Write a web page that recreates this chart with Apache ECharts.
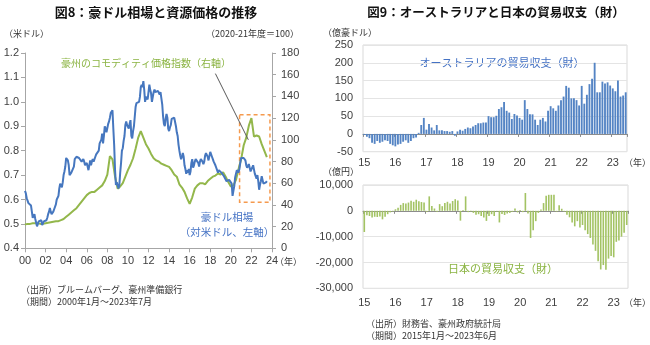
<!DOCTYPE html>
<html><head><meta charset="utf-8">
<script src="https://cdn.jsdelivr.net/npm/echarts@6/dist/echarts.min.js"></script>
<style>html,body{margin:0;padding:0;background:#fff}#c{width:650px;height:345px}</style>
</head><body><div id="c"></div>
<script>
// ---- Fig.8: AUD/USD (monthly, 2000-01 .. 2023-07), left axis ----
const audUsd = [
 .635,.625,.605,.595,.585,.590,.585,.575,.550,.525,.520,.540,
 .520,.505,.490,.495,.510,.510,.505,.515,.495,.500,.510,.510,
 .515,.515,.525,.540,.550,.565,.550,.540,.545,.550,.560,.560,
 .580,.600,.605,.615,.645,.665,.660,.650,.670,.700,.715,.735,
 .770,.775,.760,.740,.700,.695,.710,.710,.715,.735,.765,.770,
 .775,.780,.775,.770,.765,.765,.755,.755,.765,.755,.740,.740,
 .750,.745,.720,.740,.760,.740,.755,.765,.755,.760,.775,.785,
 .785,.790,.800,.830,.830,.845,.870,.830,.860,.900,.890,.875,
 .880,.910,.920,.935,.955,.955,.965,.890,.820,.720,.660,.670,
 .665,.645,.660,.710,.750,.800,.810,.840,.860,.905,.920,.905,
 .905,.890,.910,.925,.860,.850,.880,.900,.940,.980,.995,.995,
 1.000,1.000,1.020,1.060,1.070,1.060,1.085,1.050,1.000,1.020,1.020,1.010,
 1.040,1.070,1.050,1.035,1.000,1.000,1.040,1.050,1.040,1.035,1.040,1.045,
 1.045,1.030,1.040,1.040,.990,.940,.910,.900,.930,.950,.935,.890,
 .880,.895,.905,.930,.925,.935,.935,.930,.900,.875,.860,.825,
 .800,.780,.765,.775,.790,.775,.740,.725,.705,.720,.710,.725,
 .700,.715,.750,.765,.730,.740,.755,.765,.760,.760,.750,.735,
 .755,.765,.760,.755,.745,.755,.780,.790,.795,.775,.760,.760,
 .795,.785,.775,.765,.755,.750,.740,.730,.720,.710,.720,.715,
 .715,.710,.710,.710,.695,.695,.700,.675,.680,.680,.680,.685,
 .685,.665,.615,.635,.655,.690,.705,.720,.720,.710,.725,.750,
 .770,.775,.770,.770,.775,.760,.740,.730,.730,.745,.730,.715,
 .715,.720,.740,.735,.705,.705,.685,.700,.675,.640,.660,.675,
 .695,.690,.665,.670,.665,.670,.675
];
// Australian commodity price index (2020-21 = 100), quarterly points Jan/Apr/Jul/Oct, right axis
const commodity = [
 22,22.5,22.5,23, 23,23,22.5,22.5, 23,23.5,24,24.5, 25,25,26,27,
 29,31,33,35, 37,40,43,46, 49,51,52,52, 54,56,58,62,
 68,85,82,66, 55,57,60,66, 72,77,83,92, 102,108,102,96,
 92,87,83,81, 80,78,77,76, 75,72,68,66, 59,56,52,46,
 41,47,55,58, 60,60,59,62, 64,66,67,69, 68,70,66,61,
 57,58,63,73, 82,95,102,113, 120,103,104,103, 96,90,84
];
const leftYearLabels = ['00','02','04','06','08','10','12','14','16','18','20','22','24'];

// ---- Fig.9: monthly trade balance (goods), 2015-01 .. 2023-06 ----
const ausTrade = [ // 億豪ドル
 -3,-8,-12,-25,-28,-20,-25,-22,-18,-20,-28,-32,
 -35,-30,-28,-22,-18,-25,-20,-12,-10,3,25,45,
 12,28,18,10,25,10,10,8,8,6,8,-5,
 7,12,9,14,18,16,21,25,30,30,32,32,
 50,47,47,51,70,75,90,65,60,42,56,52,
 45,40,95,70,55,55,40,25,40,45,35,65,
 78,72,65,80,95,105,135,130,100,100,95,80,
 135,85,110,140,155,200,117,117,147,142,145,136,
 128,120,150,105,108,117
];
const japanTrade = [ // 億円
 -8200,-1700,-2000,-2600,-2300,-2400,-2200,-3300,-2300,-1300,-600,-300,
 600,1200,2300,3000,2800,3200,3900,3500,4300,3700,3400,3200,
 -400,5600,1900,900,-400,2600,1800,3000,3500,2800,3800,4500,
 4000,-3800,300,5600,-500,-300,-800,-1500,-1300,-2000,-2600,-3900,
 -2000,-1300,-2000,-300,-4500,-1200,-1600,-1000,-800,-400,900,-600,
 300,-500,6900,-1000,-10500,-7500,-4000,-800,500,3000,5800,6200,
 6200,6200,-300,2200,800,-300,-1500,-2500,-4500,-6000,-4000,-6500,
 -5500,-7500,-9000,-10500,-13000,-15500,-19500,-22700,-21000,-22800,-18500,-17500,
 -18000,-12000,-11500,-10000,-8500,-5500
];
const tradeMonths = [];
for (let y = 2015; y <= 2023; y++) for (let m = 1; m <= 12; m++) {
  if (tradeMonths.length < ausTrade.length) tradeMonths.push(y + '-' + String(m).padStart(2, '0'));
}

const NUM = "'Liberation Sans','Noto Sans CJK JP',sans-serif";
const JP = "'Noto Sans CJK JP',sans-serif";
const BLUE = '#4677BF', GREEN = '#93B74B', BAR_BLUE = '#5484C4', BAR_GREEN = '#A3C363';
const AX = '#A6A6A6', TXT = '#404040';

function txt(text, x, y, size, color, align, bold) {
  return { type: 'text', x: x, y: y, silent: true,
    style: { text: text, x: 0, y: 0, fill: color, font: (bold ? 'bold ' : '') + size + 'px ' + JP,
      textAlign: align, align: align, textVerticalAlign: 'middle', verticalAlign: 'middle' } };
}

const chart = echarts.init(document.getElementById('c'), null, { renderer: 'canvas' });
const lbl = { fontSize: 11, color: TXT, fontFamily: NUM };

chart.setOption({
  animation: false,
  backgroundColor: '#fff',
  grid: [
    { left: 25, top: 53, width: 247, height: 195.3, show: false },
    { left: 363, top: 45, width: 264, height: 106.7, show: true, borderColor: '#D9D9D9', borderWidth: 1 },
    { left: 363, top: 185, width: 265, height: 103.3, show: true, borderColor: '#D9D9D9', borderWidth: 1 }
  ],
  xAxis: [
    { gridIndex: 0, type: 'value', min: 0, max: 24, interval: 2,
      axisLine: { show: true, onZero: false, lineStyle: { color: AX } },
      axisTick: { show: true, length: 4, lineStyle: { color: AX } },
      axisLabel: Object.assign({ margin: 7, formatter: v => leftYearLabels[Math.round(v / 2)] }, lbl),
      splitLine: { show: false } },
    { gridIndex: 1, type: 'category', data: tradeMonths, position: 'bottom',
      axisLine: { show: false, onZero: false }, axisTick: { show: false },
      axisLabel: Object.assign({ margin: 6, interval: i => i % 12 === 0, formatter: v => v.slice(2, 4) }, lbl) },
    { gridIndex: 1, type: 'category', data: tradeMonths, position: 'bottom',
      axisLine: { show: true, onZero: true, lineStyle: { color: '#8C8C8C' } },
      axisTick: { show: true, length: 3, interval: i => i % 12 === 0, lineStyle: { color: '#8C8C8C' } },
      axisLabel: { show: false } },
    { gridIndex: 2, type: 'category', data: tradeMonths, position: 'bottom',
      axisLine: { show: false, onZero: false }, axisTick: { show: false },
      axisLabel: Object.assign({ margin: 9, interval: i => i % 12 === 0, formatter: v => v.slice(2, 4) }, lbl) },
    { gridIndex: 2, type: 'category', data: tradeMonths, position: 'bottom',
      axisLine: { show: true, onZero: true, lineStyle: { color: '#8C8C8C' } },
      axisTick: { show: true, length: 3, interval: i => i % 12 === 0, lineStyle: { color: '#8C8C8C' } },
      axisLabel: { show: false } }
  ],
  yAxis: [
    { gridIndex: 0, type: 'value', position: 'left', min: 0.4, max: 1.2, interval: 0.1,
      axisLine: { show: true, lineStyle: { color: AX } },
      axisTick: { show: true, length: 4, lineStyle: { color: AX } },
      axisLabel: Object.assign({ margin: 6, formatter: v => v.toFixed(1) }, lbl),
      splitLine: { show: false } },
    { gridIndex: 0, type: 'value', position: 'right', min: 0, max: 180, interval: 20,
      axisLine: { show: true, lineStyle: { color: AX } },
      axisTick: { show: true, length: 4, lineStyle: { color: AX } },
      axisLabel: Object.assign({ margin: 9 }, lbl),
      splitLine: { show: false } },
    { gridIndex: 1, type: 'value', min: -50, max: 250, interval: 50,
      axisLine: { show: false }, axisTick: { show: false },
      axisLabel: Object.assign({ margin: 10 }, lbl),
      splitLine: { show: true, lineStyle: { color: '#E4E4E4' } } },
    { gridIndex: 2, type: 'value', min: -30000, max: 10000, interval: 10000,
      axisLine: { show: false }, axisTick: { show: false },
      axisLabel: Object.assign({ margin: 10, formatter: v => v.toLocaleString('en-US') }, lbl),
      splitLine: { show: true, lineStyle: { color: '#E4E4E4' } } }
  ],
  series: [
    { type: 'line', xAxisIndex: 0, yAxisIndex: 1, data: commodity.map((v, i) => [i * 3 / 12, v]),
      showSymbol: false, lineStyle: { color: GREEN, width: 2 }, itemStyle: { color: GREEN }, z: 3,
      markArea: { silent: true, itemStyle: { color: 'rgba(0,0,0,0)', borderColor: '#F59A4E', borderWidth: 1.5, borderType: [4, 3] },
        data: [[{ coord: [20.85, 123] }, { coord: [23.8, 42.5] }]] },
      markLine: { silent: true, symbol: ['none', 'none'], label: { show: false },
        lineStyle: { color: '#5A5A5A', width: 1, type: 'solid' },
        data: [[{ coord: [18.5, 161] }, { coord: [21.7, 100] }]] } },
    { type: 'line', xAxisIndex: 0, yAxisIndex: 0, data: audUsd.map((v, i) => [i / 12, v]),
      showSymbol: false, lineStyle: { color: BLUE, width: 2 }, itemStyle: { color: BLUE }, z: 4 },
    { type: 'bar', xAxisIndex: 1, yAxisIndex: 2, data: ausTrade, barCategoryGap: '28%',
      itemStyle: { color: BAR_BLUE } },
    { type: 'bar', xAxisIndex: 3, yAxisIndex: 3, data: japanTrade, barCategoryGap: '38%',
      itemStyle: { color: BAR_GREEN } }
  ],
  graphic: [
    txt('図8：豪ドル相場と資源価格の推移', 156, 12, 13, '#111', 'center', true),
    txt('図9：オーストラリアと日本の貿易収支（財）', 496, 12, 12.5, '#111', 'center', true),
    txt('（米ドル）', 4, 34, 9, '#333', 'left'),
    txt('（2020-21年度＝100）', 299, 34, 9, '#333', 'right'),
    txt('豪州のコモディティ価格指数（右軸）', 146, 63, 10, '#8BB443', 'center'),
    txt('豪ドル相場', 227, 217, 10.5, '#4472C4', 'center'),
    txt('（対米ドル、左軸）', 227, 232, 10.5, '#4472C4', 'center'),
    txt('（年）', 275, 262, 9, '#333', 'left'),
    txt('（出所）ブルームバーグ、豪州準備銀行', 21, 290, 9, '#333', 'left'),
    txt('（期間）2000年1月～2023年7月', 21, 302, 9, '#333', 'left'),
    txt('（億豪ドル）', 323, 33, 9, '#333', 'left'),
    txt('オーストラリアの貿易収支（財）', 502, 63, 11, '#4472C4', 'center'),
    txt('（年）', 624, 163, 9, '#333', 'left'),
    txt('（億円）', 323, 172, 9, '#333', 'left'),
    txt('日本の貿易収支（財）', 503, 269, 11, '#8BB443', 'center'),
    txt('（年）', 624, 303, 9, '#333', 'left'),
    txt('（出所）財務省、豪州政府統計局', 366, 324, 9, '#333', 'left'),
    txt('（期間）2015年1月～2023年6月', 366, 336, 9, '#333', 'left')
  ]
});
</script></body></html>
